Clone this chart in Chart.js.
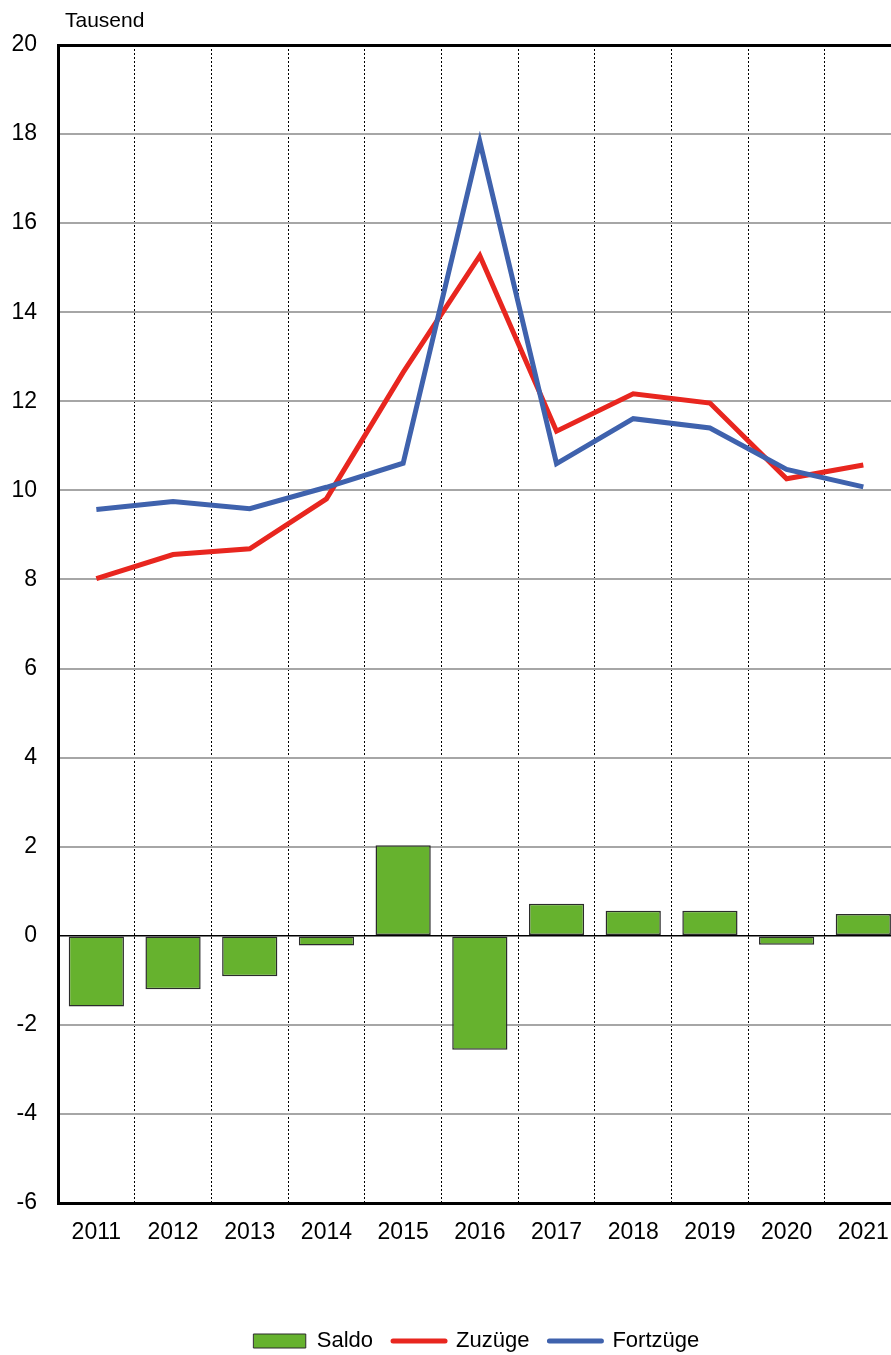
<!DOCTYPE html>
<html>
<head>
<meta charset="utf-8">
<script src="https://cdn.jsdelivr.net/npm/chart.js@4/dist/chart.umd.min.js"></script>
<style>
  html, body { margin: 0; padding: 0; background: #fff; overflow: hidden; }
  #wrap { position: relative; width: 905px; height: 1355px; }
</style>
</head>
<body>
<div id="wrap"><canvas id="grafik"></canvas></div>
<script>
const jahre = ['2011', '2012', '2013', '2014', '2015', '2016', '2017', '2018', '2019', '2020', '2021'];
const saldo = [-1.59, -1.2, -0.91, -0.22, 2.03, -2.56, 0.72, 0.56, 0.56, -0.2, 0.49];
const zuzuege = [8.02, 8.56, 8.69, 9.81, 12.65, 15.27, 11.33, 12.17, 11.96, 10.26, 10.57];
const fortzuege = [9.57, 9.75, 9.59, 10.07, 10.61, 17.83, 10.6, 11.61, 11.4, 10.47, 10.08];
const einheit = 'Tausend';

const schrift = "'Liberation Sans', Arial, sans-serif";

// Einheit oben links ueber der Zeichenflaeche
const einheitPlugin = {
    id: 'einheit',
    afterDraw(chart) {
        const ctx = chart.ctx;
        ctx.save();
        ctx.font = '21px ' + schrift;
        ctx.fillStyle = '#000';
        ctx.textBaseline = 'alphabetic';
        ctx.fillText(einheit, chart.chartArea.left + 7, chart.chartArea.top - 18);
        ctx.restore();
    }
};

// Legende etwas nach rechts und unten schieben
const legendeVerschieben = {
    id: 'legendeVerschieben',
    afterLayout(chart) {
        chart.legend.left += 25;
        chart.legend.right += 25;
        chart.legend.top += 7;
        chart.legend.bottom += 7;
    }
};

new Chart(document.getElementById('grafik'), {
    type: 'bar',
    data: {
        labels: jahre,
        datasets: [
            {
                type: 'bar',
                label: 'Saldo',
                data: saldo,
                backgroundColor: '#66b22e',
                borderColor: '#2b2b2b',
                borderWidth: 1.5,
                borderSkipped: false,
                categoryPercentage: 1,
                barPercentage: 0.72,
                order: 3
            },
            {
                type: 'line',
                label: 'Zuzüge',
                data: zuzuege,
                borderColor: '#e8261f',
                backgroundColor: '#e8261f',
                borderWidth: 5,
                pointRadius: 0,
                tension: 0,
                order: 2
            },
            {
                type: 'line',
                label: 'Fortzüge',
                data: fortzuege,
                borderColor: '#3f62ad',
                backgroundColor: '#3f62ad',
                borderWidth: 5,
                pointRadius: 0,
                tension: 0,
                order: 1
            }
        ]
    },
    options: {
        responsive: true,
        maintainAspectRatio: false,
        animation: false,
        layout: { padding: { top: 45, right: 2, left: 0, bottom: 0 } },
        plugins: {
            tooltip: { enabled: false },
            legend: {
                position: 'bottom',
                labels: {
                    usePointStyle: true,
                    pointStyleWidth: 52,
                    boxHeight: 14,
                    padding: 20,
                    color: '#000',
                    font: { family: schrift, size: 22 },
                    sort: (a, b) => a.datasetIndex - b.datasetIndex,
                    generateLabels(chart) {
                        const items = Chart.defaults.plugins.legend.labels.generateLabels(chart);
                        items.forEach(it => {
                            const ds = chart.data.datasets[it.datasetIndex];
                            if (ds.type === 'line') {
                                it.pointStyle = 'line';
                                it.lineWidth = 5;
                                it.strokeStyle = ds.borderColor;
                            } else {
                                it.pointStyle = 'rect';
                                it.lineWidth = 1;
                                it.strokeStyle = '#2b2b2b';
                            }
                            it.lineCap = 'round';
                        });
                        return items;
                    }
                }
            }
        },
        scales: {
            x: {
                offset: true,
                grid: {
                    offset: true,
                    color: '#000',
                    lineWidth: 1,
                    drawTicks: false
                },
                border: { display: true, color: '#000', width: 3, dash: [2, 2] },
                ticks: {
                    color: '#000',
                    padding: 16,
                    font: { family: schrift, size: 23 }
                },
                afterFit(s) { s.height = 100; }
            },
            y: {
                min: -6,
                max: 20,
                grid: {
                    drawTicks: false,
                    color: c => (c.tick && (c.tick.value === 0 || c.tick.value === 20)) ? '#000' : '#a6a6a6',
                    lineWidth: c => c.tick && c.tick.value === 20 ? 3 : (c.tick && c.tick.value === 0 ? 1.5 : 2)
                },
                border: { display: true, color: '#000', width: 3 },
                ticks: {
                    stepSize: 2,
                    color: '#000',
                    padding: 21,
                    font: { family: schrift, size: 23 }
                },
                afterFit(s) { s.width = 58; }
            }
        }
    },
    plugins: [einheitPlugin, legendeVerschieben]
});
</script>
</body>
</html>
